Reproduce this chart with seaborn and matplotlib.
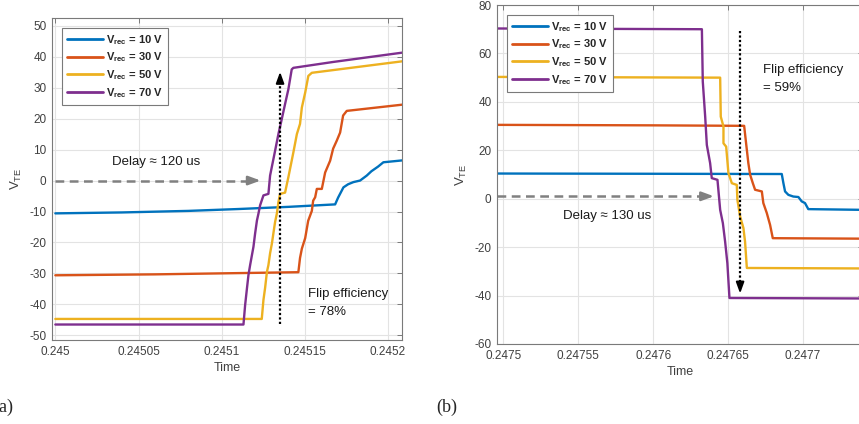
import numpy as np
import pandas as pd
import matplotlib
matplotlib.use("Agg")
import matplotlib.pyplot as plt
import seaborn as sns

# Colores por defecto de MATLAB
COLORS = ["#0072BD", "#D95319", "#EDB120", "#7E2F8E"]
SERIES = ["10 V", "30 V", "50 V", "70 V"]

# ---- Panel (a): tiempo en us desde 0.245 ----
T0_A = 0.245
blue_a_t = [0, 40, 80, 110, 140, 168.2, 170, 173.2, 176, 179.2, 183.2, 187.2, 190, 194, 197.2, 208.4]
blue_a_v = [-10.6, -10.3, -9.8, -9.2, -8.5, -7.7, -5.5, -2.2, -1.2, -0.5, 0.0, 1.6, 3.0, 4.5, 5.9, 6.5]
red_a_t = [0, 60, 146.1, 147.1, 148.2, 150.2, 152, 154.2, 155, 156.2, 157.2, 160.2, 162.2,
           165.2, 167, 169.2, 171.2, 173, 175.2, 208.4]
red_a_v = [-30.6, -30.3, -29.6, -25, -22, -18.6, -13, -9.8, -6.5, -5.4, -2.7, -2.7, 2.6,
           6.4, 10.3, 12.9, 15.5, 21, 22.5, 24.5]
yellow_a_t = [0, 124.1, 125.1, 126.1, 127.2, 128.1, 129.1, 130.2, 131.1, 132.1, 133.2, 134.1,
              135.1, 138.1, 140.1, 143.1, 145.2, 147.1, 148.2, 150.2, 152.1, 154.2, 208.4]
yellow_a_v = [-44.7, -44.7, -38.6, -34.7, -29.5, -27.3, -23.5, -20.3, -17, -13.4, -10.6, -7,
              -4.3, -3.9, 1.1, 9.1, 15, 18.3, 23.6, 28.4, 33.8, 34.8, 38.5]
purple_a_t = [0, 113.1, 114.1, 115.2, 116.1, 117.1, 119.1, 120.1, 121.2, 122.1, 123.1, 125.1,
              128.1, 129.1, 132.1, 134.1, 136.1, 138.1, 140.1, 142.1, 143.1, 167, 208.4]
purple_a_v = [-46.5, -46.5, -40.2, -34.8, -30.5, -27.3, -21.4, -17.1, -12.9, -10.7, -8, -4.8,
              -4.3, 1.6, 9.6, 15, 19.8, 24.7, 29.5, 35.9, 36.4, 38.3, 41.3]

# ---- Panel (b): tiempo en us desde 0.2475 ----
T0_B = 0.2475
blue_b_t = [-4.2, 100, 185.8, 186.9, 188, 190.2, 193.5, 196.9, 199.1, 201.3, 203.5, 240]
blue_b_v = [10.4, 10.3, 10.2, 6.4, 3.0, 1.6, 0.9, 0.7, -1.1, -1.8, -4.3, -4.6]
red_b_t = [-4.2, 100, 160.7, 162, 163.5, 164.7, 166.5, 168, 172.5, 173.5, 175.8, 178, 179.8, 240]
red_b_v = [30.5, 30.3, 30.1, 22.9, 14.7, 9.9, 6.4, 3.7, 3.0, -1.8, -5.9, -10.8, -16.3, -16.5]
yellow_b_t = [-4.2, 144.7, 145.1, 146.9, 146.9, 148.7, 150.2, 152.5, 155.8, 156.2, 158, 160.2,
              161.3, 162.5, 240]
yellow_b_v = [50.3, 50.0, 33.9, 29.8, 22.9, 21.5, 10.6, 6.4, 5.7, -0.5, -7.3, -12.1,
              -17.7, -28.6, -28.8]
purple_b_t = [-4.2, 132.5, 133.1, 134.7, 135.8, 138, 139.1, 142.9, 144.7, 146.5, 148, 149.5,
              150.9, 240]
purple_b_v = [70.3, 70.0, 48.4, 33.9, 22.2, 14.7, 8.5, 7.8, -4.6, -10.1, -17.7, -26.6, -41, -41.2]

XTICKS_A = [0.245, 0.24505, 0.2451, 0.24515, 0.2452]
XTICKS_B = [0.2475, 0.24755, 0.2476, 0.24765, 0.2477]


def build_df(t0, ts, vs):
    frames = []
    for name, t, v in zip(SERIES, ts, vs):
        frames.append(pd.DataFrame({"Time": t0 + np.array(t) * 1e-6,
                                    "V": v, "serie": name}))
    return pd.concat(frames, ignore_index=True)


df_a = build_df(T0_A, [blue_a_t, red_a_t, yellow_a_t, purple_a_t],
                [blue_a_v, red_a_v, yellow_a_v, purple_a_v])
df_b = build_df(T0_B, [blue_b_t, red_b_t, yellow_b_t, purple_b_t],
                [blue_b_v, red_b_v, yellow_b_v, purple_b_v])

sns.set_theme(style="whitegrid")
plt.rcParams["font.family"] = ["Liberation Sans", "DejaVu Sans"]
plt.rcParams["mathtext.fontset"] = "custom"
plt.rcParams["mathtext.rm"] = "Liberation Sans"
plt.rcParams["mathtext.bf"] = "Liberation Sans:bold"
plt.rcParams["mathtext.it"] = "Liberation Sans:italic"
plt.rcParams["axes.unicode_minus"] = False

fig = plt.figure(figsize=(8.59, 4.24), dpi=100)
ax_a = fig.add_axes([52 / 859, 84 / 424, 350 / 859, 322 / 424])
ax_b = fig.add_axes([497 / 859, 80 / 424, 366 / 859, 339 / 424])

palette = dict(zip(SERIES, COLORS))
labels = [r"$\mathbf{V_{rec}}$ = " + s for s in SERIES]


def style_axes(ax, xlim, ylim, xticks, yticks, xtl):
    ax.set_xticks(xticks)
    ax.set_xticklabels(xtl)
    ax.set_yticks(yticks)
    ax.set_xlim(*xlim)
    ax.set_ylim(*ylim)
    ax.grid(True, color="#e3e3e3", lw=0.8)
    ax.set_facecolor("white")
    for sp in ax.spines.values():
        sp.set_color("#7a7a7a")
        sp.set_linewidth(0.8)
        sp.set_visible(True)
    ax.tick_params(direction="in", length=3.5, width=0.7, color="#7a7a7a",
                   labelsize=8.5, labelcolor="#404040", top=True, right=True,
                   pad=4)
    ax.set_xlabel("Time", fontsize=9, color="#404040", labelpad=3.5)
    ax.set_ylabel(r"$\mathrm{V_{TE}}$", fontsize=9.5, color="#404040", labelpad=4)


for ax, df in [(ax_a, df_a), (ax_b, df_b)]:
    sns.lineplot(data=df, x="Time", y="V", hue="serie", palette=palette,
                 sort=False, estimator=None, lw=1.7, legend=False, ax=ax)

style_axes(ax_a, (0.244998, 0.2452084), (-51.5, 52.5), XTICKS_A,
           np.arange(-50, 51, 10), ["0.245", "0.24505", "0.2451", "0.24515", "0.2452"])
style_axes(ax_b, (T0_B - 4.2e-6, T0_B + 240e-6), (-60, 80), XTICKS_B,
           np.arange(-60, 81, 20), ["0.2475", "0.24755", "0.2476", "0.24765", "0.2477"])

for ax, anchor in [(ax_a, (0.0286, 0.969)), (ax_b, (0.0273, 0.9705))]:
    leg = ax.legend(handles=ax.lines[:4], labels=labels, loc="upper left",
                    bbox_to_anchor=anchor, borderaxespad=0, fancybox=False,
                    framealpha=1, edgecolor="#7a7a7a",
                    prop={"weight": "bold", "size": 8}, handlelength=3.2,
                    handletextpad=0.3, labelspacing=0.35, borderpad=0.45)
    leg.get_frame().set_linewidth(0.8)
    for ln in leg.get_lines():
        ln.set_linewidth(2.0)

# anotaciones panel (a)
ax_a.plot([T0_A, T0_A + 118e-6], [0, 0], color="#808080", lw=1.8, dashes=(3.5, 2.2))
ax_a.annotate("", xy=(T0_A + 125.1e-6, 0), xytext=(T0_A + 117e-6, 0),
              arrowprops=dict(arrowstyle="-|>,head_length=0.6,head_width=0.22",
                              color="#808080", lw=1.8))
ax_a.text(T0_A + 34e-6, 6, "Delay \u2248 120 us", fontsize=9.5, va="center", color="#1a1a1a")
ax_a.plot([T0_A + 135.1e-6] * 2, [-46.3, 33], color="black", lw=1.6, ls=(0, (1, 1)))
ax_a.annotate("", xy=(T0_A + 135.1e-6, 36), xytext=(T0_A + 135.1e-6, 31),
              arrowprops=dict(arrowstyle="-|>,head_length=0.55,head_width=0.2",
                              color="black", lw=1.4))
ax_a.text(T0_A + 152e-6, -39.5, "Flip efficiency\n= 78%", fontsize=9.5, va="center",
          color="#1a1a1a", linespacing=1.6)

# anotaciones panel (b)
ax_b.plot([T0_B - 4.2e-6, T0_B + 134e-6], [1, 1], color="#808080", lw=1.8, dashes=(3.5, 2.2))
ax_b.annotate("", xy=(T0_B + 142.4e-6, 1), xytext=(T0_B + 133e-6, 1),
              arrowprops=dict(arrowstyle="-|>,head_length=0.6,head_width=0.22",
                              color="#808080", lw=1.8))
ax_b.text(T0_B + 40e-6, -7.1, "Delay \u2248 130 us", fontsize=9.5, va="center", color="#1a1a1a")
ax_b.plot([T0_B + 158e-6] * 2, [69.4, -37], color="black", lw=1.6, ls=(0, (1, 1)))
ax_b.annotate("", xy=(T0_B + 158e-6, -40.3), xytext=(T0_B + 158e-6, -35),
              arrowprops=dict(arrowstyle="-|>,head_length=0.55,head_width=0.2",
                              color="black", lw=1.4))
ax_b.text(T0_B + 173.5e-6, 49.5, "Flip efficiency\n= 59%", fontsize=9.5, va="center",
          color="#1a1a1a", linespacing=1.6)

# etiquetas de subfigura
fig.text(-0.008, 0.04, "(a)", fontsize=13, family="Liberation Serif", va="center")
fig.text(436 / 859, 0.04, "(b)", fontsize=13, family="Liberation Serif", va="center")

fig.savefig("out.png", dpi=100, facecolor="white")
